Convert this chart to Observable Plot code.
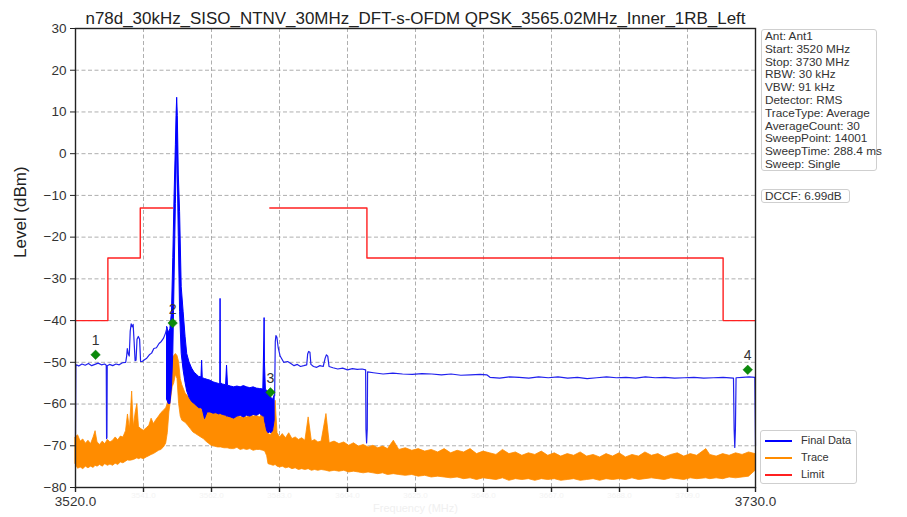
<!DOCTYPE html>
<html>
<head>
<meta charset="utf-8">
<script src="https://cdn.jsdelivr.net/npm/d3@7"></script>
<script src="https://cdn.jsdelivr.net/npm/@observablehq/plot@0.6"></script>
<style>
  html, body { margin: 0; padding: 0; background: #fff; }
  #wrap { position: relative; width: 907px; height: 517px; font-family: "Liberation Sans", Arial, sans-serif; }
  .box { position: absolute; background: #fff; border: 1px solid #cfcfcf; border-radius: 3px; color: #333; }
  #info { left: 761px; top: 29px; width: 116px; height: 142px; font-size: 11.8px; line-height: 12.8px; padding: 0 0 0 3px; box-sizing: border-box; white-space: nowrap; }
  #dccf { left: 761px; top: 189px; width: 89px; height: 14px; font-size: 11.8px; line-height: 13px; padding-left: 3px; box-sizing: border-box; }
  #legend { left: 760px; top: 430px; width: 97px; height: 54px; font-size: 11px; line-height: 17px; box-sizing: border-box; padding-top: 1px; }
  .row { display: flex; align-items: center; height: 17px; }
  .sw { width: 27px; height: 2px; margin-left: 4px; margin-right: 9px; }
</style>
</head>
<body>
<div id="wrap"></div>
<script>
// ---------------- data ----------------
const title = "n78d_30kHz_SISO_NTNV_30MHz_DFT-s-OFDM QPSK_3565.02MHz_Inner_1RB_Left";
const xTicks = [3520, 3541, 3562, 3583, 3604, 3625, 3646, 3667, 3688, 3709, 3730];
const xTickLabels = ["3520.0", "3541.0", "3562.0", "3583.0", "3604.0", "3625.0", "3646.0", "3667.0", "3688.0", "3709.0", "3730.0"];
const yTicks = [30, 20, 10, 0, -10, -20, -30, -40, -50, -60, -70, -80];

// Final Data, clean part below the carrier (MHz, dBm)
const blueAF = [3520.0, 3520.1, 3520.3, 3521, 3522, 3523, 3524, 3525, 3526, 3527, 3528, 3529, 3529.5, 3529.6, 3529.7, 3529.8,
  3530.5, 3531.5, 3532.5, 3533.5, 3534.5, 3535.5, 3535.8, 3536.0, 3536.3, 3536.6, 3536.9, 3537.2, 3537.5, 3537.8, 3538.1,
  3538.4, 3538.7, 3539.0, 3539.4, 3539.8, 3540.1, 3540.6, 3541.3, 3542.0, 3542.8, 3543.5, 3544.2, 3545.0, 3545.8, 3546.5,
  3547.2, 3547.8, 3548.3];
const blueAL = [-68, -51.0, -50.6, -50.9, -50.4, -50.7, -50.3, -50.8, -50.5, -50.2, -50.6, -50.4, -50.7, -68.3, -68.0, -50.8,
  -50.5, -50.8, -50.4, -50.6, -50.1, -50.0, -48.5, -46.7, -48.0, -48.5, -42.5, -40.8, -41.5, -40.9, -45.0,
  -49.6, -49.5, -44.5, -43.8, -44.5, -49.8, -49.8, -49.4, -49.0, -48.2, -47.8, -46.7, -46.5, -45.5, -45.0,
  -44.2, -43.0, -41.6];

// Final Data, dense part around the carrier: upper / lower envelope
const bandF = [3548.3, 3548.8, 3549.3, 3549.8, 3550.2, 3550.6, 3551.0, 3551.2, 3551.4, 3551.6, 3551.9, 3552.3, 3552.8, 3553.4,
  3554.0, 3554.5, 3555.2, 3556.0, 3556.8, 3557.5, 3558.2, 3558.9, 3559.1, 3559.3, 3560.0, 3560.8, 3561.7, 3562.6, 3563.5,
  3564.4, 3564.7, 3564.8, 3564.9, 3565.5, 3566.5, 3566.8, 3567.1, 3568, 3569, 3570, 3571, 3572, 3573, 3574, 3575, 3576,
  3577, 3578.0, 3578.3, 3578.4, 3578.5, 3578.8, 3579.2, 3579.6, 3580.0, 3580.5, 3581.0, 3581.5];
const bandHi = [-41.6, -43, -42, -38, -25, -10, 2, 9, 13.4, 9, -5, -14, -32, -38,
  -44, -48, -50, -51.5, -52.5, -53, -53.5, -53.6, -49.6, -53.8, -54, -54.2, -54.4, -54.8, -55,
  -55.2, -55, -34.8, -55, -55.3, -55.5, -50.8, -55.6, -55.8, -56, -55.8, -56, -55.7, -56, -56.2, -56, -56.3,
  -56.4, -56.5, -45, -39.4, -50, -56.6, -56.8, -57.5, -58, -58.5, -59, -58];
const bandLo = [-59, -60, -60, -56, -48, -30, -12, -5, 5, -5, -20, -38, -48, -52,
  -55, -57, -58.5, -59.5, -60, -60.5, -61, -61, -61.2, -61.3, -63.6, -62, -62, -62.3, -62.2,
  -62.5, -62.4, -62.5, -62.4, -62.6, -62.8, -63, -63, -63.2, -63.5, -63, -62.8, -63.2, -62.8, -63, -62.6, -62.8,
  -62.4, -63, -63, -63, -64, -65, -66.5, -67, -66.8, -67, -66.5, -64];

// Final Data, clean part above the carrier
const blueCF = [3581.5, 3581.7, 3581.9, 3582.2, 3582.6, 3583.2, 3584.3, 3585.5, 3586.5, 3587.5, 3588.5, 3589.5, 3590.5, 3591.4,
  3591.7, 3592.0, 3592.4, 3592.7, 3593.5, 3594.5, 3595.5, 3596.5, 3597.1, 3597.5, 3597.9, 3598.3, 3599.5, 3601, 3602.5,
  3604, 3605.5, 3607, 3608.5, 3609.6, 3609.7, 3609.9, 3610.1, 3610.2, 3612, 3615, 3618, 3621, 3624, 3627, 3630, 3633, 3636,
  3639, 3642, 3645, 3647, 3648, 3651, 3654, 3657, 3660, 3663, 3666, 3669, 3672, 3675, 3678, 3681, 3684, 3687, 3690, 3693,
  3696, 3699, 3702, 3705, 3708, 3711, 3714, 3717, 3720, 3723.2, 3723.4, 3723.6, 3723.8, 3724.0, 3726, 3728, 3729.8, 3730];
const blueCL = [-58, -45, -43.6, -44, -46.5, -48.5, -50, -49.8, -50.3, -50.8, -50.5, -51, -50.8, -50.6,
  -48, -47.4, -47.6, -50.5, -51, -51.2, -50.8, -51, -49, -48.2, -48.5, -51, -51.3, -51.6, -51.4,
  -51.8, -51.5, -51.7, -51.6, -51.8, -66, -69.3, -66, -52.3, -52.5, -52.8, -52.6, -52.8, -52.9, -52.7, -52.8, -53.0, -52.8,
  -53.1, -53.0, -52.9, -53.0, -53.6, -53.8, -53.5, -53.6, -53.8, -53.5, -53.7, -53.5, -53.8, -53.6, -53.9, -53.7, -53.5, -53.7, -53.6, -53.8,
  -53.5, -53.7, -53.6, -53.8, -53.7, -53.6, -53.8, -53.7, -53.6, -53.8, -66, -70.4, -66, -53.7, -53.6, -53.5, -53.6, -70];

// Trace: upper / lower envelope
const traceF = [3520.0, 3520.8, 3521.6, 3522.4, 3523.2, 3524.0, 3524.8, 3525.6, 3526.2, 3526.8, 3527.6, 3528.4, 3529.2, 3530.0,
  3530.8, 3531.6, 3532.4, 3533.2, 3534.0, 3534.8, 3535.6, 3536.2, 3536.8, 3537.5, 3538.0, 3538.6, 3539.1, 3539.6, 3540.3,
  3541.1, 3542.0, 3542.8, 3543.5, 3544.2, 3545.0, 3545.8, 3546.5, 3547.3, 3548.0, 3548.5, 3549.0, 3549.5, 3550.0, 3550.5,
  3551.0, 3551.5, 3552.0, 3552.5, 3553.0, 3554.0, 3554.8, 3555.6, 3556.4, 3557.2, 3558.0, 3558.8, 3559.6, 3560.4, 3561.2,
  3562.0, 3563.0, 3564.0, 3565.0, 3566.0, 3567.0, 3568.0, 3569.0, 3570.0, 3571.0, 3572.0, 3573.0, 3574.0, 3575.0, 3576.0,
  3577.0, 3578.0, 3578.6, 3579.2, 3579.6, 3580.4, 3581.2, 3581.8, 3582.4, 3583.2, 3584.0, 3585.0, 3586.0, 3587.0, 3588.0,
  3589.0, 3590.0, 3591.0, 3592.0, 3593.0, 3594.0, 3595.0, 3596.0, 3597.5, 3598.5, 3600, 3601.5, 3603, 3604.5, 3606, 3607.5,
  3609, 3610.5, 3612, 3613.5, 3615, 3616.5, 3618.3, 3620, 3622, 3624, 3626, 3628, 3630, 3632, 3634, 3636, 3638, 3640, 3642,
  3644, 3646, 3648, 3650, 3652, 3654, 3656, 3658, 3660, 3662, 3664, 3666, 3668, 3670, 3672, 3674, 3676, 3678, 3680, 3682,
  3684, 3686, 3688, 3690, 3692, 3694, 3696, 3698, 3700, 3702, 3704, 3706, 3708, 3710, 3712, 3714.8, 3716, 3718, 3720, 3722,
  3724, 3726, 3728, 3730];
const traceHi = [-68, -67.5, -69.0, -68.5, -69.5, -68.8, -69.6, -68.0, -66.5, -69.2, -69.8, -69.0, -69.6, -68.6,
  -69.2, -68.8, -68.0, -68.7, -67.8, -68.0, -66.5, -62.5, -66.0, -57.0, -65.5, -62.0, -60.0, -65.5, -66.0,
  -66.4, -65.8, -65.2, -63.5, -64.8, -63.8, -63.0, -62.2, -61.6, -61.0, -60.0, -55.0, -51.0, -49.0, -48.5,
  -48.0, -48.5, -50.0, -54.0, -55.5, -57.5, -58.2, -59.0, -58.5, -60.0, -60.2, -60.8, -59.6, -61.0, -61.2,
  -61.6, -62.0, -61.5, -62.4, -62.0, -62.8, -62.5, -63.0, -62.6, -63.2, -62.8, -63.2, -62.5, -63.0, -62.8,
  -63.2, -62.0, -61.5, -64.5, -67.2, -67.5, -66.0, -59.2, -67.0, -68.0, -67.2, -68.2, -67.0, -68.4, -68.0,
  -68.6, -68.2, -68.8, -63.2, -69.0, -68.6, -69.2, -69.0, -62.4, -69.4, -69.0, -69.6, -69.2, -70.0, -69.4, -70.2,
  -69.8, -70.4, -70.0, -70.6, -70.2, -70.8, -68.8, -71.0, -70.6, -71.2, -70.8, -71.4, -71.0, -71.6, -70.8, -71.8, -71.2, -71.6, -70.8,
  -72.0, -71.4, -71.8, -72.2, -71.0, -72.0, -71.6, -72.4, -71.8, -72.2, -71.4, -72.4, -71.8, -72.6, -72.0, -72.4, -71.6, -72.6, -72.2, -72.8,
  -72.0, -72.6, -71.8, -72.8, -72.2, -72.6, -71.6, -72.4, -72.0, -72.8, -72.2, -71.8, -72.6, -72.0, -72.4, -70.8, -72.2, -72.6, -72.0, -72.4,
  -71.8, -72.2, -71.6, -72.0];
const traceLo = [-74.4, -75.5, -75.2, -75.6, -75.0, -75.4, -75.0, -75.3, -74.8, -75.0, -74.6, -75.0, -74.4, -74.8,
  -74.5, -74.8, -74.3, -74.6, -74.0, -74.2, -73.8, -73.5, -73.6, -73.5, -73.4, -73.2, -73.0, -73.2, -73.0,
  -73.2, -72.8, -72.5, -72.2, -72.0, -71.6, -71.2, -71.0, -70.4, -69.5, -67.0, -62.0, -59.0, -56.0, -55.0,
  -53.0, -54.0, -60.0, -63.0, -64.0, -64.5, -65.2, -66.0, -66.8, -67.2, -67.6, -68.0, -68.4, -69.0, -69.5,
  -70.0, -70.2, -70.4, -70.4, -70.6, -70.6, -70.8, -70.8, -70.5, -71.0, -70.8, -71.0, -70.8, -71.2, -71.0,
  -71.0, -71.2, -71.4, -72.5, -74.4, -74.6, -74.8, -74.6, -75.0, -75.2, -75.0, -75.4, -75.2, -75.6, -75.4,
  -75.8, -75.6, -75.8, -75.6, -76.0, -75.8, -76.0, -75.8, -76.0, -76.2, -76.0, -76.2, -76.0, -76.4, -76.2, -76.4,
  -76.6, -76.4, -76.6, -76.8, -76.6, -77.0, -76.8, -77.0, -77.2, -77.0, -77.4, -77.2, -77.6, -77.4, -77.6, -77.8, -77.6, -78.0, -77.8,
  -78.2, -77.8, -78.0, -78.2, -77.8, -78.4, -78.0, -78.2, -78.0, -78.4, -78.0, -78.2, -78.0, -78.4, -78.2, -78.0, -78.4, -78.2, -78.0, -78.4,
  -78.0, -78.2, -78.0, -78.2, -77.8, -78.2, -78.0, -77.8, -78.0, -78.2, -77.8, -78.0, -78.2, -77.8, -78.0, -77.8, -78.0, -77.8, -78.0, -77.6,
  -77.8, -77.6, -77.4, -76.0];

// Limit
const limitF1 = [3520, 3530, 3530, 3540, 3540, 3550];
const limitL1 = [-40, -40, -25, -25, -13, -13];
const limitF2 = [3580, 3610, 3610, 3720, 3720, 3730];
const limitL2 = [-13, -13, -25, -25, -40, -40];

// Markers
const markerF = [3526.2, 3550.0, 3580.2, 3727.6];
const markerL = [-48.2, -40.6, -57.2, -51.8];
const markerLabels = ["1", "2", "3", "4"];

const infoLines = ["Ant: Ant1", "Start: 3520 MHz", "Stop: 3730 MHz", "RBW: 30 kHz", "VBW: 91 kHz", "Detector: RMS",
  "TraceType: Average", "AverageCount: 30", "SweepPoint: 14001", "SweepTime: 288.4 ms", "Sweep: Single"];
const dccfText = "DCCF: 6.99dB";
const legendNames = ["Final Data", "Trace", "Limit"];
const legendColors = ["#0000ff", "#ff8c00", "#ff2020"];

// ---------------- tables ----------------
const blueLine = [
  ...blueAF.map((f, i) => ({f, v: blueAL[i], seg: "a"})),
  ...blueCF.map((f, i) => ({f, v: blueCL[i], seg: "c"}))
];
const blueBand = bandF.map((f, i) => ({f, hi: bandHi[i], lo: bandLo[i]}));
const trace = traceF.map((f, i) => ({f, hi: traceHi[i], lo: traceLo[i]}));
const limit = [
  ...limitF1.map((f, i) => ({f, v: limitL1[i], seg: 1})),
  ...limitF2.map((f, i) => ({f, v: limitL2[i], seg: 2}))
];
const markers = markerF.map((f, i) => ({f, v: markerL[i], label: markerLabels[i]}));
const tickLab = xTicks.map((t, i) => ({t, label: xTickLabels[i], end: i === 0 || i === xTicks.length - 1}));

const chart = Plot.plot({
  width: 907,
  height: 517,
  marginLeft: 75,
  marginRight: 152,
  marginTop: 28,
  marginBottom: 30,
  style: {fontFamily: "'Liberation Sans', Arial, sans-serif", background: "transparent", overflow: "visible"},
  x: {domain: [3520, 3730]},
  y: {domain: [-80, 30]},
  marks: [
    Plot.gridX(xTicks, {stroke: "#9a9a9a", strokeOpacity: 1, strokeWidth: 0.8, strokeDasharray: "4,2.5"}),
    Plot.gridY(yTicks, {stroke: "#9a9a9a", strokeOpacity: 1, strokeWidth: 0.8, strokeDasharray: "4,2.5"}),
    Plot.areaY(trace, {x: "f", y1: "lo", y2: "hi", fill: "#ff8c00", stroke: "#ff8c00", strokeWidth: 0.8}),
    Plot.areaY(blueBand, {x: "f", y1: "lo", y2: "hi", fill: "#0000ff", stroke: "#0000ff", strokeWidth: 1}),
    Plot.line(blueLine, {x: "f", y: "v", z: "seg", stroke: "#2020ee", strokeWidth: 1.2}),
    Plot.line(limit, {x: "f", y: "v", z: "seg", stroke: "#ff2020", strokeWidth: 1.4}),
    Plot.dot(markers, {x: "f", y: "v", symbol: "diamond2", r: 4.3, fill: "#0b8a0b", stroke: "#0b7a0b", strokeWidth: 0.5}),
    Plot.text(markers, {x: "f", y: "v", text: "label", dy: -14, fontSize: 14, fill: "#333"}),
    Plot.frame({stroke: "#222", strokeWidth: 1.4}),
    Plot.axisY(yTicks, {tickSize: 5, tickPadding: 4, fontSize: 13.5, fill: "#333", stroke: "#222", label: null}),
    Plot.axisX(xTicks, {tickSize: 5, tickFormat: () => "", stroke: "#222", strokeWidth: 1.4, label: null}),
    Plot.text(tickLab.filter(d => d.end), {x: "t", text: "label", frameAnchor: "bottom", dy: 18, fontSize: 13.5, fill: "#333"}),
    Plot.text(tickLab.filter(d => !d.end), {x: "t", text: "label", frameAnchor: "bottom", dy: 10, fontSize: 8, fill: "#f3f3f3"}),
    Plot.text(["Frequency (MHz)"], {frameAnchor: "bottom", dy: 24, fontSize: 11, fill: "#f0f0f0"}),
    Plot.text(["Level (dBm)"], {frameAnchor: "left", dx: -55, rotate: -90, fontSize: 17, fill: "#222"}),
    Plot.text([title], {frameAnchor: "top", dy: -16, fontSize: 16, fill: "#222"})
  ]
});

const wrap = document.getElementById("wrap");
wrap.appendChild(chart);
chart.style.position = "absolute";
chart.style.left = "0px";
chart.style.top = "0px";

// condense title
chart.querySelectorAll("text").forEach(t => {
  if (t.textContent === title) {
    t.setAttribute("textLength", 660);
    t.setAttribute("lengthAdjust", "spacingAndGlyphs");
  }
});

// info box
const info = document.createElement("div");
info.id = "info"; info.className = "box";
infoLines.forEach(s => { const d = document.createElement("div"); d.textContent = s; info.appendChild(d); });
wrap.appendChild(info);

const dccf = document.createElement("div");
dccf.id = "dccf"; dccf.className = "box"; dccf.textContent = dccfText;
wrap.appendChild(dccf);

// legend
const legend = document.createElement("div");
legend.id = "legend"; legend.className = "box";
legendNames.forEach((n, i) => {
  const r = document.createElement("div"); r.className = "row";
  const sw = document.createElement("span"); sw.className = "sw"; sw.style.background = legendColors[i];
  const tx = document.createElement("span"); tx.textContent = n;
  r.appendChild(sw); r.appendChild(tx); legend.appendChild(r);
});
wrap.appendChild(legend);
</script>
</body>
</html>
